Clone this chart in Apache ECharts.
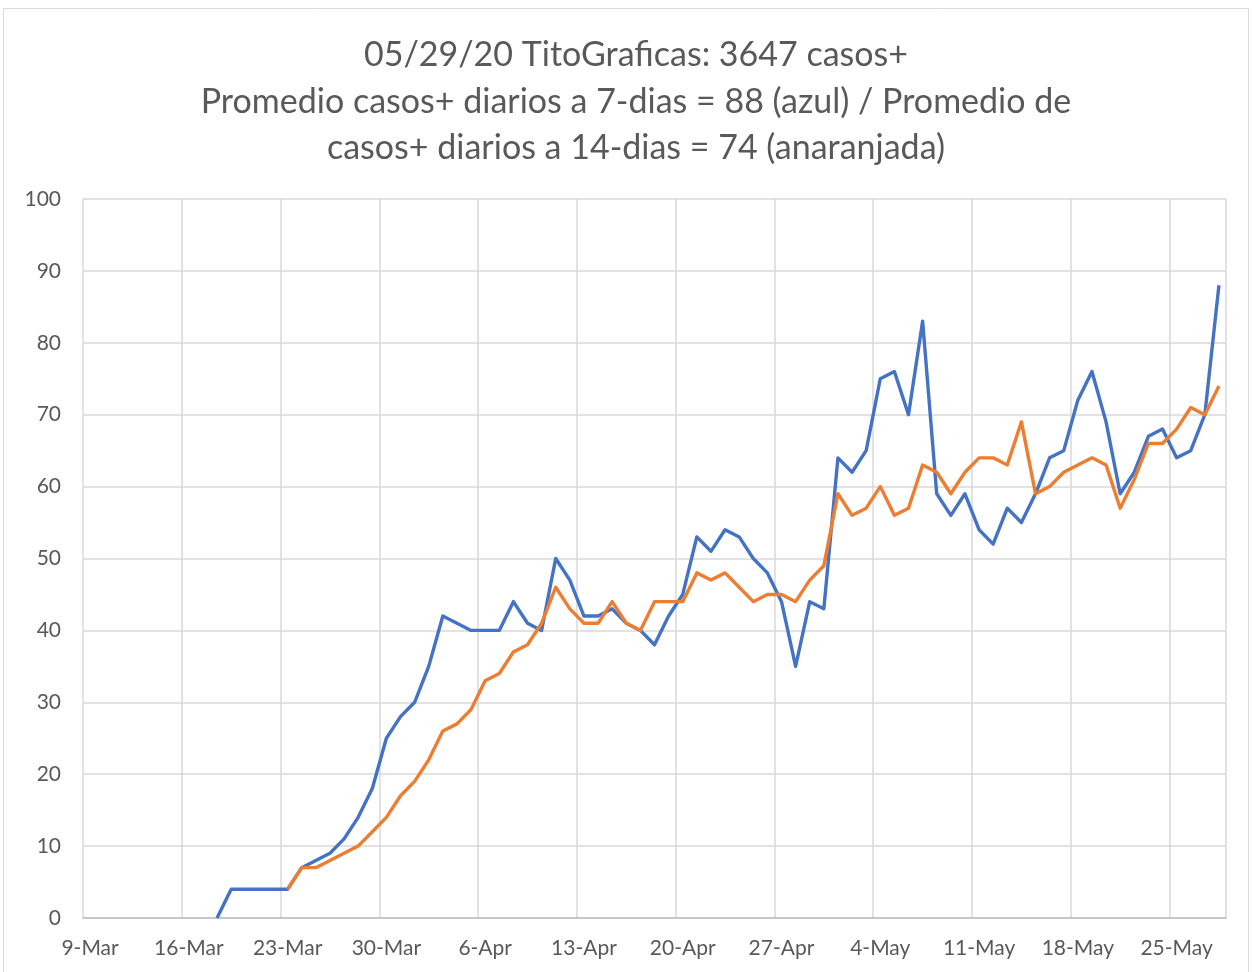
<!DOCTYPE html>
<html>
<head>
<meta charset="utf-8">
<title>TitoGraficas casos+</title>
<script src="https://cdn.jsdelivr.net/npm/echarts@6/dist/echarts.min.js"></script>
<style>
  html, body { margin: 0; padding: 0; background: #ffffff; }
  #chart { width: 1252px; height: 972px; }
</style>
</head>
<body>
<div id="chart"></div>
<script>
// Daily dates from 9-Mar to 28-May
const months = ['Mar', 'Apr', 'May'];
const monthDays = [31, 30, 31];
const dates = [];
(function () {
  let m = 0, d = 9;
  for (let i = 0; i < 81; i++) {
    dates.push(d + '-' + months[m]);
    d++;
    if (d > monthDays[m]) { d = 1; m++; }
  }
})();

// 7-day average of daily positive cases (blue), from 18-Mar
const avg7 = [
  null, null, null, null, null, null, null, null, null,
  0, 4, 4, 4, 4, 4, 7, 8, 9, 11, 14, 18, 25, 28, 30, 35, 42, 41,
  40, 40, 40, 44, 41, 40, 50, 47, 42, 42, 43, 41, 40, 38, 42, 45,
  53, 51, 54, 53, 50, 48, 44, 35, 44, 43, 64, 62, 65, 75, 76, 70,
  83, 59, 56, 59, 54, 52, 57, 55, 59, 64, 65, 72, 76, 69, 59, 62,
  67, 68, 64, 65, 70, 88
];

// 14-day average of daily positive cases (orange), from 23-Mar
const avg14 = [
  null, null, null, null, null, null, null, null, null,
  null, null, null, null, null, 4, 7, 7, 8, 9, 10, 12, 14, 17, 19, 22, 26, 27,
  29, 33, 34, 37, 38, 41, 46, 43, 41, 41, 44, 41, 40, 44, 44, 44,
  48, 47, 48, 46, 44, 45, 45, 44, 47, 49, 59, 56, 57, 60, 56, 57,
  63, 62, 59, 62, 64, 64, 63, 69, 59, 60, 62, 63, 64, 63, 57, 61,
  66, 66, 68, 71, 70, 74
];

const titleLines = [
  '05/29/20 TitoGraficas: 3647 casos+',
  'Promedio casos+ diarios a 7-dias = 88 (azul) / Promedio de',
  'casos+ diarios a 14-dias = 74 (anaranjada)'
];

const FONT = 'Lato, "Open Sans", sans-serif';
const TEXT_COLOR = '#595959';

const chart = echarts.init(document.getElementById('chart'), null, { renderer: 'canvas' });

chart.setOption({
  backgroundColor: '#ffffff',
  animation: false,
  title: {
    text: titleLines.join('\n'),
    left: 631,
    top: 27,
    textAlign: 'center',
    textStyle: {
      fontFamily: FONT,
      fontSize: 34,
      fontWeight: 'normal',
      color: TEXT_COLOR,
      lineHeight: 46.5
    }
  },
  graphic: [{
    type: 'rect',
    shape: { x: 3.5, y: 8.5, width: 1245, height: 980 },
    style: { fill: null, stroke: '#d9d9d9', lineWidth: 1 },
    silent: true,
    z: -1
  }],
  grid: {
    left: 83,
    right: 26,
    top: 199,
    bottom: 54,
    containLabel: false
  },
  xAxis: {
    type: 'category',
    data: dates,
    boundaryGap: true,
    axisLine: { show: true, lineStyle: { color: '#bfbfbf', width: 1.5 } },
    axisTick: { show: false },
    axisLabel: {
      interval: 6,
      color: TEXT_COLOR,
      fontFamily: FONT,
      fontSize: 21,
      margin: 20
    },
    splitLine: {
      show: true,
      interval: 6,
      lineStyle: { color: '#d9d9d9', width: 1.5 }
    }
  },
  yAxis: {
    type: 'value',
    min: 0,
    max: 100,
    interval: 10,
    axisLine: { show: false },
    axisTick: { show: false },
    axisLabel: {
      color: TEXT_COLOR,
      fontFamily: FONT,
      fontSize: 21,
      margin: 22
    },
    splitLine: { lineStyle: { color: '#d9d9d9', width: 1.5 } }
  },
  series: [
    {
      name: '7-dias',
      type: 'line',
      data: avg7,
      showSymbol: false,
      connectNulls: false,
      lineStyle: { color: '#4472c4', width: 3.4, join: 'round' },
      itemStyle: { color: '#4472c4' },
      z: 2
    },
    {
      name: '14-dias',
      type: 'line',
      data: avg14,
      showSymbol: false,
      connectNulls: false,
      lineStyle: { color: '#ed7d31', width: 3.4, join: 'round' },
      itemStyle: { color: '#ed7d31' },
      z: 3
    }
  ]
});
</script>
</body>
</html>
